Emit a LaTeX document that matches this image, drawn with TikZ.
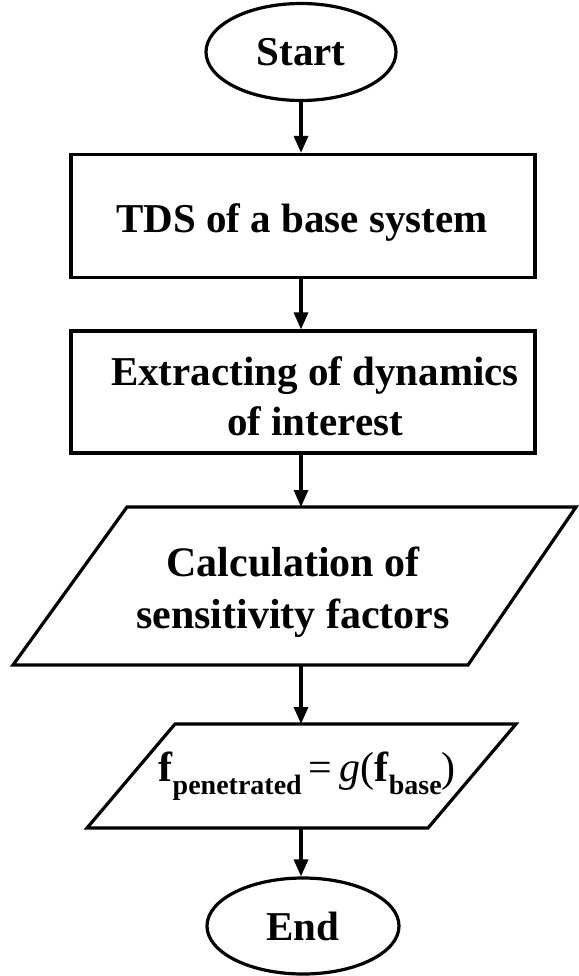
\documentclass[tikz,border=0pt]{standalone}
\usepackage{fontspec}
\setmainfont{Liberation Serif}
\usetikzlibrary{shapes.geometric,arrows.meta}
\tikzset{
  term/.style={draw, line width=3.2pt, ellipse, inner sep=0pt},
  procbox/.style={draw, line width=3.2pt, rectangle, inner sep=0pt, align=center},
  plain/.style={inner sep=0pt, align=center},
  outline/.style={draw, line width=3.2pt, line join=miter},
  arr/.style={line width=3.2pt, -{Triangle[length=17pt,width=14pt]}},
  big/.style={font=\fontsize{41}{50}\selectfont\bfseries}
}
\begin{document}
\begin{tikzpicture}[x=1pt,y=-1pt]
\useasboundingbox (0,0) rectangle (578,976);
\node[term,big,minimum width=190pt,minimum height=97pt] (start) at (301,52) {Start};
\node[procbox,minimum width=464pt,minimum height=123pt] (tds) at (303,216) {};
\node[plain,big] (tdstext) at (302,222) {TDS of a base system};
\node[procbox,minimum width=464pt,minimum height=122pt] (ext) at (303,392) {};
\node[plain,big] (exttext) at (315,396) {Extracting of dynamics\\of interest};
% parallelogram 1
\draw[outline] (127,507) -- (576,507) -- (468,665) -- (13,665) -- cycle;
\coordinate (calc-n) at (301,507);
\coordinate (calc-s) at (301,665);
\node[plain,font=\fontsize{42}{52}\selectfont\bfseries] (calc) at (293,592) {Calculation of\\sensitivity factors};
% parallelogram 2
\draw[outline] (175,724) -- (516,724) -- (428,828) -- (87,828) -- cycle;
\coordinate (form-n) at (301,724);
\coordinate (form-s) at (301,828);
\node[plain,font=\fontsize{42}{50}\selectfont] (form) at (307,776)
  {\textbf{f}\raisebox{-0.32em}{\fontsize{28}{28}\selectfont\bfseries penetrated}\,=\,\textit{g}(\textbf{f}\raisebox{-0.32em}{\fontsize{28}{28}\selectfont\bfseries base})};
\node[term,big,minimum width=192pt,minimum height=96pt] (end) at (303,926) {End};
% connectors
\draw[arr] (start.south) -- (start.south |- tds.north);
\draw[arr] (tds.south -| start.south) -- (start.south |- ext.north);
\draw[arr] (ext.south -| start.south) -- (calc-n);
\draw[arr] (calc-s) -- (form-n);
\draw[arr] (form-s) -- (start.south |- end.north);
\end{tikzpicture}
\end{document}
